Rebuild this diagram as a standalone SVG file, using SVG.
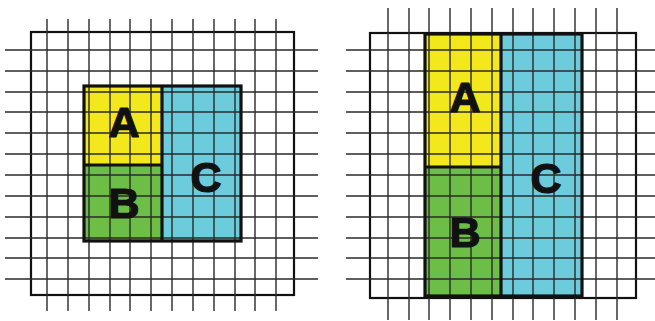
<svg xmlns="http://www.w3.org/2000/svg" width="655" height="321" viewBox="0 0 655 321">
<style>
.g{stroke:#2a2a2a;stroke-width:1.4;fill:none}
.o{stroke:#111;stroke-width:2.2;fill:none}
.b{stroke:#111;stroke-width:3.2;fill:none}
.y{fill:#F3E81C}
.gr{fill:#6CBE46}
.c{fill:#6CCCDB}
.t{font-family:"Liberation Sans",Arial,sans-serif;font-weight:bold;font-size:43px;fill:#111;stroke:#111;stroke-width:1.2;stroke-linejoin:round;text-anchor:middle}
</style>
<rect width="655" height="321" fill="#fff"/>
<g id="left-panel">
  <rect class="o" x="31" y="32" width="263" height="263"/>
  <g id="left-A"><rect class="y" x="84" y="86" width="78" height="79"/></g>
  <g id="left-B"><rect class="gr" x="84" y="165" width="78" height="76"/></g>
  <g id="left-C"><rect class="c" x="162" y="86" width="79" height="155"/></g>
  <path class="g" d="M47 19V311M68 19V311M89 19V311M110 19V311M130 19V311M151 19V311M172 19V311M193 19V311M214 19V311M235 19V311M255 19V311M276 19V311M5 50H318M5 71H318M5 92H318M5 112H318M5 133H318M5 154H318M5 175H318M5 196H318M5 217H318M5 238H318M5 258H318M5 279H318"/>
  <rect class="b" x="84" y="86" width="157" height="155"/>
  <path class="b" d="M162 86V241M84 165H162"/>
  <text class="t" x="124" y="137">A</text>
  <text class="t" x="124" y="218">B</text>
  <text class="t" x="206" y="192">C</text>
</g>
<g id="right-panel">
  <rect class="o" x="370" y="33" width="266" height="265"/>
  <g id="right-A"><rect class="y" x="425" y="34" width="76" height="133"/></g>
  <g id="right-B"><rect class="gr" x="425" y="167" width="76" height="129"/></g>
  <g id="right-C"><rect class="c" x="501" y="34" width="81" height="262"/></g>
  <path class="g" d="M388 8V320M409 8V320M429 8V320M450 8V320M471 8V320M492 8V320M513 8V320M533 8V320M554 8V320M575 8V320M596 8V320M617 8V320M346 50H655M346 71H655M346 92H655M346 112H655M346 133H655M346 154H655M346 175H655M346 196H655M346 217H655M346 238H655M346 258H655M346 279H655"/>
  <rect class="b" x="425" y="34" width="157" height="262"/>
  <path class="b" d="M501 34V296M425 167H501"/>
  <text class="t" x="465" y="112">A</text>
  <text class="t" x="465" y="247">B</text>
  <text class="t" x="546" y="193">C</text>
</g>
</svg>
